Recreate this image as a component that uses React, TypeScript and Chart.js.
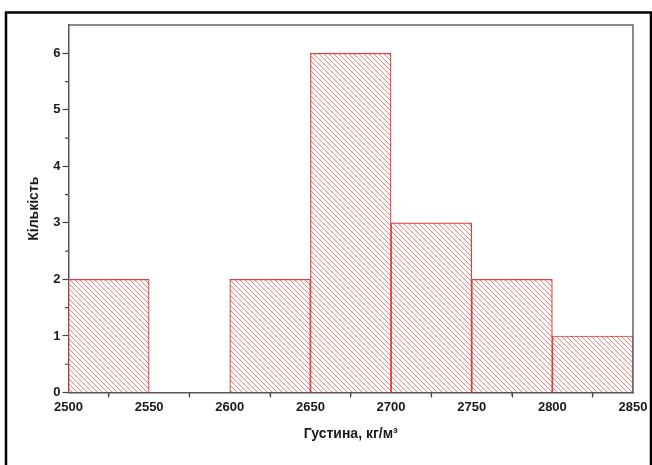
import React, { useEffect, useRef } from "react";
import { Chart, registerables } from "chart.js";

Chart.register(...registerables);

// ---- Data ----
const binEdgesLeft = [2500, 2600, 2650, 2700, 2750, 2800];
const binWidth = 50;
const counts = [2, 2, 6, 3, 2, 1];
const xTickStep = 50;
const yTickStep = 1;
const xTitle = "Густина, кг/м³";
const yTitle = "Кількість";

const FONT = "'Liberation Sans', Arial, sans-serif";

function makeHatch(): CanvasPattern | string {
  const size = 5;
  const c = document.createElement("canvas");
  c.width = size;
  c.height = size;
  const g = c.getContext("2d");
  if (!g) return "rgba(230,80,80,0.3)";
  g.fillStyle = "#ffffff";
  g.fillRect(0, 0, size, size);
  g.strokeStyle = "rgba(224,80,80,0.8)";
  g.lineWidth = 0.9;
  g.beginPath();
  g.moveTo(-1, -1);
  g.lineTo(size + 1, size + 1);
  g.moveTo(-1, size - 1);
  g.lineTo(1, size + 1);
  g.moveTo(size - 1, -1);
  g.lineTo(size + 1, 1);
  g.stroke();
  const p = g.createPattern(c, "repeat");
  return p || "rgba(230,80,80,0.3)";
}

const framePlugin = {
  id: "frameAndMinor",
  beforeDraw(chart: any) {
    const ctx = chart.ctx;
    ctx.save();
    ctx.strokeStyle = "#000";
    ctx.lineWidth = 2.5;
    ctx.strokeRect(6, 12.5, 645, 470);
    ctx.restore();
  },
  afterDraw(chart: any) {
    const ctx = chart.ctx;
    const { left, right, top, bottom } = chart.chartArea;
    const xs = chart.scales.x;
    const ys = chart.scales.y;
    ctx.save();
    ctx.strokeStyle = "#666";
    ctx.lineWidth = 1.5;
    ctx.beginPath();
    ctx.moveTo(left, top);
    ctx.lineTo(right, top);
    ctx.lineTo(right, bottom);
    ctx.stroke();
    ctx.strokeStyle = "#444";
    ctx.lineWidth = 1.2;
    ctx.beginPath();
    for (let v = xs.min + xTickStep / 2; v < xs.max; v += xTickStep) {
      const px = xs.getPixelForValue(v);
      ctx.moveTo(px, bottom);
      ctx.lineTo(px, bottom + 3.5);
    }
    for (let v = ys.min + yTickStep / 2; v < ys.max; v += yTickStep) {
      const py = ys.getPixelForValue(v);
      ctx.moveTo(left, py);
      ctx.lineTo(left - 3.5, py);
    }
    ctx.stroke();
    ctx.restore();
  },
};

export default function App() {
  const ref = useRef<HTMLCanvasElement | null>(null);

  useEffect(() => {
    document.body.style.margin = "0";
    document.body.style.overflow = "hidden";
    const canvas = ref.current;
    if (!canvas) return;
    const hatch = makeHatch();
    const data = binEdgesLeft.map((l, i) => ({ x: l + binWidth / 2, y: counts[i] }));
    const chart = new Chart(canvas, {
      type: "bar",
      data: {
        datasets: [
          {
            data: data as any,
            backgroundColor: hatch as any,
            borderColor: "#e23b3b",
            borderWidth: 1.2,
            barPercentage: 1,
            categoryPercentage: 1,
          },
        ],
      },
      plugins: [framePlugin],
      options: {
        animation: false,
        responsive: false,
        maintainAspectRatio: false,
        layout: { padding: { top: 25, right: 19, left: 0, bottom: 0 } },
        plugins: { legend: { display: false }, tooltip: { enabled: false } },
        scales: {
          x: {
            type: "linear",
            min: 2500,
            max: 2850,
            offset: false,
            afterFit: (s: any) => {
              s.height = 72.5;
            },
            ticks: {
              stepSize: xTickStep,
              autoSkip: false,
              maxRotation: 0,
              padding: 2,
              color: "#1a1a1a",
              font: { family: FONT, size: 13, weight: "bold" },
              callback: (v: any) => String(v),
            },
            grid: {
              display: true,
              drawOnChartArea: false,
              drawTicks: true,
              tickLength: 5,
              tickColor: "#444",
              tickWidth: 1.2,
            },
            border: { display: true, color: "#555", width: 1.5 },
            title: {
              display: true,
              text: xTitle,
              color: "#1a1a1a",
              font: { family: FONT, size: 14, weight: "bold" },
              padding: { top: 0, bottom: 22.6 },
            },
          },
          y: {
            type: "linear",
            min: 0,
            max: 6.5,
            afterFit: (s: any) => {
              s.width = 68.5;
            },
            ticks: {
              stepSize: yTickStep,
              includeBounds: false,
              padding: 2,
              color: "#1a1a1a",
              font: { family: FONT, size: 13, weight: "bold" },
            },
            grid: {
              display: true,
              drawOnChartArea: false,
              drawTicks: true,
              tickLength: 6,
              tickColor: "#444",
              tickWidth: 1.2,
            },
            border: { display: true, color: "#555", width: 1.5 },
            title: {
              display: true,
              text: yTitle,
              color: "#1a1a1a",
              font: { family: FONT, size: 14, weight: "bold" },
              padding: { top: 26.1, bottom: 0 },
            },
          },
        },
      } as any,
    });
    return () => chart.destroy();
  }, []);

  return (
    <canvas
      ref={ref}
      width={652}
      height={465}
      style={{ display: "block", width: 652, height: 465 }}
    />
  );
}
